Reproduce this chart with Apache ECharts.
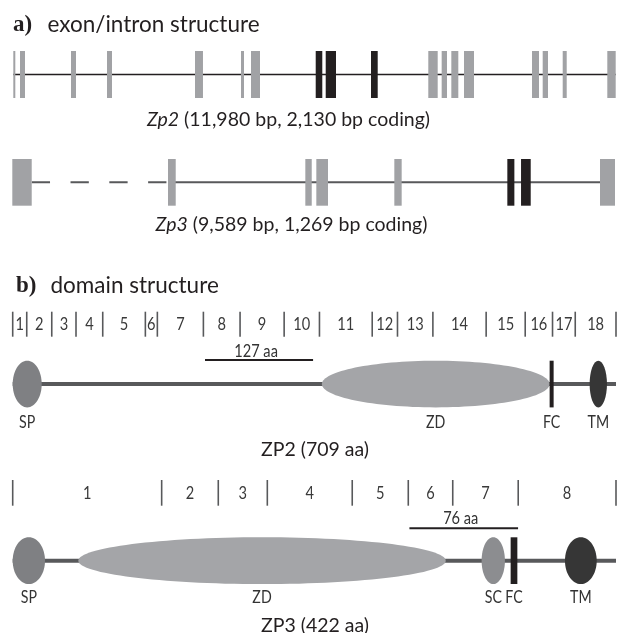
<!DOCTYPE html>
<html><head><meta charset="utf-8">
<script src="https://cdn.jsdelivr.net/npm/echarts@6/dist/echarts.min.js"></script>
<style>html,body{margin:0;padding:0;background:#fff}#c{width:618px;height:633px}</style>
</head><body><div id="c"></div>
<script>
// ---------- DATA ----------
// Zp2 gene (bp positions along the gene)
const zp2GeneLength = 11980;
const zp2ExonStart = [0,133,1147,1863,3613,4528,4727,6014,6213,7114,8253,8519,8711,8963,10315,10528,10926,11813];
const zp2ExonEnd   = [40,233,1247,1963,3772,4588,4906,6145,6418,7247,8440,8625,8850,9162,10455,10634,11006,11980];
const zp2ExonDark  = [0,0,0,0,0,0,0,1,1,1,0,0,0,0,0,0,0,0];
// Zp3 gene
const zp3GeneLength = 9589;
const zp3ExonStart = [0,2477,4662,4837,6078,7876,8094,9350];
const zp3ExonEnd   = [309,2600,4764,5023,6195,7988,8248,9589];
const zp3ExonDark  = [0,0,0,0,0,1,1,0];
const zp3CompressedIntron = [309,2477];
// ZP2 protein (aa)
const zp2Length = 709;
const zp2ExonBounds = [0,16.5,45.9,74.4,105.8,155.9,170,224.1,267.2,319,360.5,422.5,452.2,493.8,556.4,602.3,634.4,661.1,709];
const zp2ExonLabels = ['1','2','3','4','5','6','7','8','9','10','11','12','13','14','15','16','17','18'];
const zp2DomainNames = ['SP','ZD','FC','TM'];
const zp2DomainStart = [0,363.3,631,678];
const zp2DomainEnd   = [34.1,631,635.7,698.4];
const zp2ScaleBar = [226,353];
const zp2ScaleLabel = '127 aa';
// ZP3 protein (aa)
const zp3Length = 422;
const zp3ExonBounds = [0,104.2,143.8,178.1,237.5,276.7,307.8,353.6,422];
const zp3ExonLabels = ['1','2','3','4','5','6','7','8'];
const zp3DomainNames = ['SP','ZD','SC','FC','TM'];
const zp3DomainStart = [0,45.9,328,348.3,386.3];
const zp3DomainEnd   = [22.6,302.9,344.3,353,408.5];
const zp3ScaleBar = [277.5,353.5];
const zp3ScaleLabel = '76 aa';

// ---------- STYLE ----------
const GRAY = '#a1a2a5', DARK = '#231f20', LINE = '#58595b';
const domainColor = {SP:'#7f8083', ZD:'#a4a5a8', SC:'#8c8d90', FC:'#231f20', TM:'#363636'};
const SANS = "Lato, 'Open Sans', sans-serif";
const SERIF = "'Liberation Serif','DejaVu Serif',serif";
const NARROW_SCALE = 0.86;
const protLayout = [
  {tickTop:-49, tickBottom:-24, tickLabel:-36.2, bar:-0.7, barLabel:-9.5, domLabel:62.3},
  {tickTop:-57.3, tickBottom:-31.6, tickLabel:-43.8, bar:-9, barLabel:-19, domLabel:60.7}
];

const chart = echarts.init(document.getElementById('c'), null, {renderer:'canvas'});

const grids = [
  {left:13.3, width:602.4, top:51, height:47},
  {left:12.3, width:602.7, top:159, height:46.7},
  {left:12.7, width:603.3, top:360.7, height:46.7},
  {left:12.7, width:603.3, top:537.3, height:46.7}
];
const maxes = [zp2GeneLength, zp3GeneLength, zp2Length, zp3Length];

function narrowText(x, y, text, size, color) {
  return {type:'text', x:x, y:y, scaleX:NARROW_SCALE, scaleY:1,
    style:{text:text, x:0, y:0, textAlign:'center', textVerticalAlign:'middle', align:'center', verticalAlign:'middle',
      font:size+'px '+SANS, fill:color}};
}
function exonSeries(gi, starts, ends, dark) {
  return {type:'custom', xAxisIndex:gi, yAxisIndex:gi, z:3,
    data: starts.map((s,i)=>[s, ends[i], dark[i]]),
    renderItem(params, api){
      const p0 = api.coord([api.value(0), 0]), p1 = api.coord([api.value(1), 1]);
      return {type:'rect', shape:{x:p0[0], y:p0[1], width:p1[0]-p0[0], height:p1[1]-p0[1]},
        style:{fill: api.value(2) ? DARK : GRAY}};
    }};
}
function lineSeries(gi, segs, width, color, dash, z) {
  return {type:'custom', xAxisIndex:gi, yAxisIndex:gi, z:z||2,
    data: segs,
    renderItem(params, api){
      const p0 = api.coord([api.value(0), 0.5]), p1 = api.coord([api.value(1), 0.5]);
      return {type:'line', shape:{x1:p0[0], y1:p0[1], x2:p1[0], y2:p1[1]},
        style:{stroke:color, lineWidth:width, lineDash: dash || null}};
    }};
}
function tickSeries(gi, bounds, L) {
  return {type:'custom', xAxisIndex:gi, yAxisIndex:gi, z:3,
    data: bounds.map(b=>[b]),
    renderItem(params, api){
      const p = api.coord([api.value(0), 0]);
      return {type:'line', shape:{x1:p[0], y1:p[1]+L.tickTop, x2:p[0], y2:p[1]+L.tickBottom},
        style:{stroke:LINE, lineWidth:1.6}};
    }};
}
function tickLabelSeries(gi, bounds, labels, L) {
  return {type:'custom', xAxisIndex:gi, yAxisIndex:gi, z:3,
    data: labels.map((t,i)=>[(bounds[i]+bounds[i+1])/2, t]),
    renderItem(params, api){
      const p = api.coord([api.value(0), 0]);
      return narrowText(p[0], p[1]+L.tickLabel, String(labels[params.dataIndex]), 17, '#3a3a3a');
    }};
}
function domainSeries(gi, names, starts, ends) {
  return {type:'custom', xAxisIndex:gi, yAxisIndex:gi, z:4,
    data: names.map((n,i)=>[starts[i], ends[i], i]),
    renderItem(params, api){
      const n = names[params.dataIndex];
      const p0 = api.coord([api.value(0), 0]), p1 = api.coord([api.value(1), 1]);
      if (n === 'FC') {
        return {type:'rect', shape:{x:p0[0], y:p0[1], width:p1[0]-p0[0], height:p1[1]-p0[1]},
          style:{fill:domainColor[n]}, z2:5};
      }
      return {type:'ellipse', shape:{cx:(p0[0]+p1[0])/2, cy:(p0[1]+p1[1])/2, rx:(p1[0]-p0[0])/2, ry:(p1[1]-p0[1])/2},
        style:{fill:domainColor[n]}};
    }};
}
function domainLabelSeries(gi, names, starts, ends, L) {
  return {type:'custom', xAxisIndex:gi, yAxisIndex:gi, z:4,
    data: names.map((n,i)=>[(starts[i]+ends[i])/2, i]),
    renderItem(params, api){
      const p = api.coord([api.value(0), 0]);
      return narrowText(p[0], p[1]+L.domLabel, names[params.dataIndex], 16.5, '#333');
    }};
}
function scaleBarSeries(gi, bar, label, L) {
  return {type:'custom', xAxisIndex:gi, yAxisIndex:gi, z:4,
    data: [[bar[0], bar[1]]],
    renderItem(params, api){
      const p0 = api.coord([api.value(0), 0]), p1 = api.coord([api.value(1), 0]);
      return {type:'group', children:[
        {type:'line', shape:{x1:p0[0], y1:p0[1]+L.bar, x2:p1[0], y2:p1[1]+L.bar}, style:{stroke:DARK, lineWidth:2}},
        narrowText((p0[0]+p1[0])/2 - 3, p0[1]+L.barLabel, label, 17, '#333')
      ]};
    }};
}

function txt(x, y, text, font, align, rich) {
  return {type:'text', x:x, y:y, style:{text:text, font:font, fill:'#231f20',
    textAlign:align, textVerticalAlign:'middle', align:align, verticalAlign:'middle', rich:rich}};
}

const option = {
  animation:false,
  grid: grids,
  xAxis: grids.map((g,i)=>({type:'value', gridIndex:i, min:0, max:maxes[i], show:false})),
  yAxis: grids.map((g,i)=>({type:'value', gridIndex:i, min:0, max:1, inverse:true, show:false})),
  series: [
    lineSeries(0, [[0, zp2GeneLength]], 1.3, DARK),
    exonSeries(0, zp2ExonStart, zp2ExonEnd, zp2ExonDark),
    lineSeries(1, [[zp3CompressedIntron[0], zp3CompressedIntron[1]]], 2, LINE, [18.3, 20.5]),
    lineSeries(1, [[zp3CompressedIntron[1], zp3GeneLength]], 2, LINE),
    exonSeries(1, zp3ExonStart, zp3ExonEnd, zp3ExonDark),
    lineSeries(2, [[0, zp2Length]], 4, LINE),
    tickSeries(2, zp2ExonBounds, protLayout[0]),
    tickLabelSeries(2, zp2ExonBounds, zp2ExonLabels, protLayout[0]),
    domainSeries(2, zp2DomainNames, zp2DomainStart, zp2DomainEnd),
    domainLabelSeries(2, zp2DomainNames, zp2DomainStart, zp2DomainEnd, protLayout[0]),
    scaleBarSeries(2, zp2ScaleBar, zp2ScaleLabel, protLayout[0]),
    lineSeries(3, [[0, zp3Length]], 4, LINE),
    tickSeries(3, zp3ExonBounds, protLayout[1]),
    tickLabelSeries(3, zp3ExonBounds, zp3ExonLabels, protLayout[1]),
    domainSeries(3, zp3DomainNames, zp3DomainStart, zp3DomainEnd),
    domainLabelSeries(3, zp3DomainNames, zp3DomainStart, zp3DomainEnd, protLayout[1]),
    scaleBarSeries(3, zp3ScaleBar, zp3ScaleLabel, protLayout[1])
  ],
  graphic: [
    txt(13, 25, 'a)', 'bold 23px '+SERIF, 'left'),
    txt(47.5, 24.5, 'exon/intron structure', '22.5px '+SANS, 'left'),
    txt(288.5, 120, '{i|Zp2} (11,980 bp, 2,130 bp coding)', '19.5px '+SANS, 'center', {i:{font:'italic 19.5px '+SANS}}),
    txt(291.5, 225, '{i|Zp3} (9,589 bp, 1,269 bp coding)', '19.5px '+SANS, 'center', {i:{font:'italic 19.5px '+SANS}}),
    txt(16, 286, 'b)', 'bold 23px '+SERIF, 'left'),
    txt(50.5, 285.5, 'domain structure', '22.5px '+SANS, 'left'),
    txt(315, 450, 'ZP2 (709 aa)', '19.5px '+SANS, 'center'),
    txt(315, 626, 'ZP3 (422 aa)', '19.5px '+SANS, 'center')
  ]
};
chart.setOption(option);
</script>
</body></html>
